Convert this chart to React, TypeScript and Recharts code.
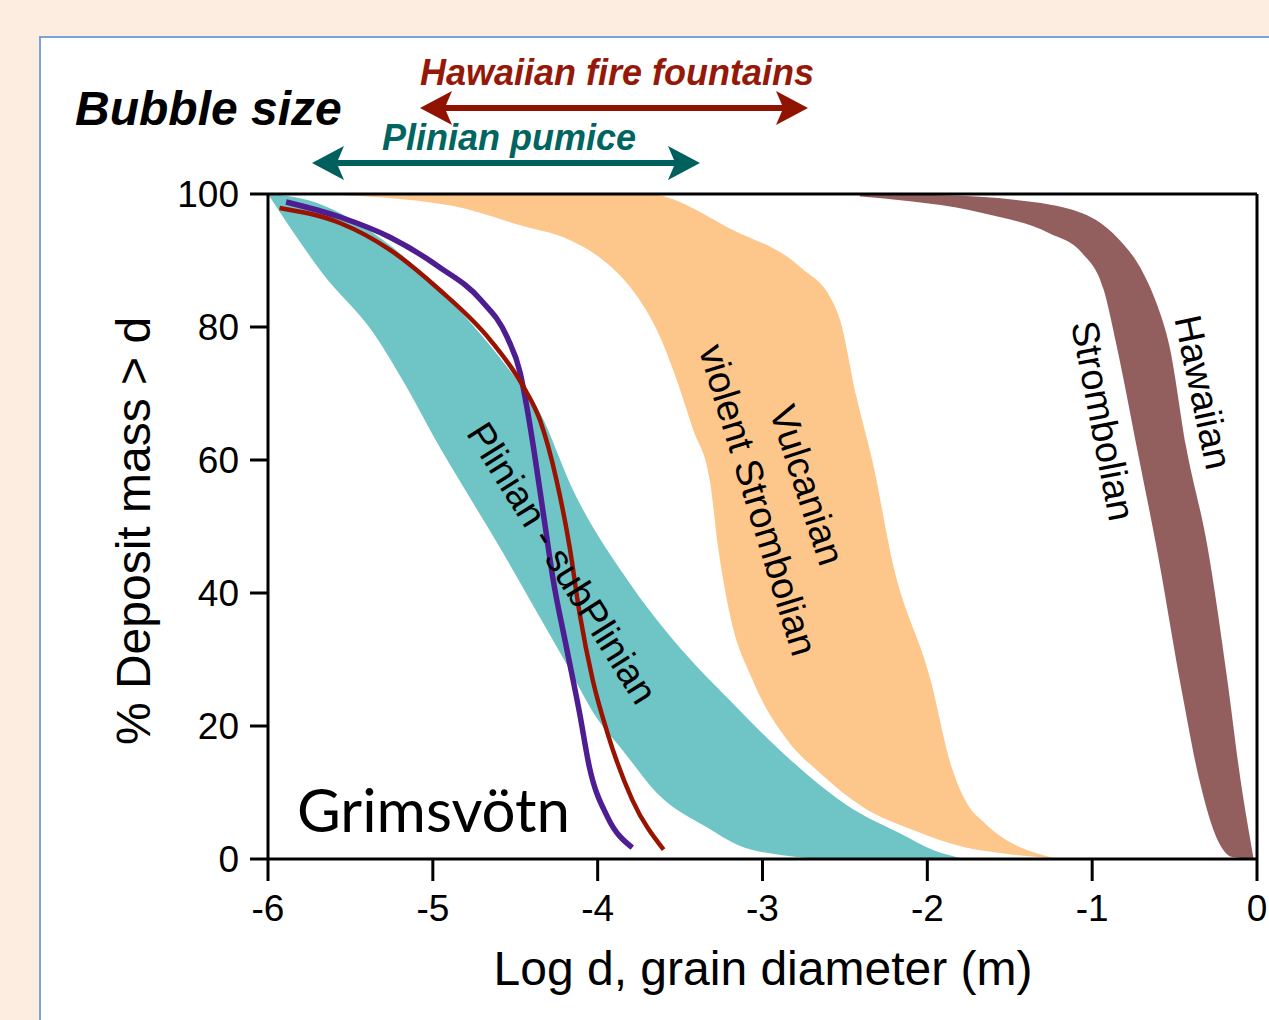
import React from 'react';
import { ComposedChart, Area, Line, XAxis, YAxis, ReferenceLine, ReferenceDot } from 'recharts';

// axis ticks
const xTicks = [-6, -5, -4, -3, -2, -1, 0];
const yTicks = [0, 20, 40, 60, 80, 100];

// band outlines (x = log d, y = % deposit mass > d)
const hawaiianRight = [
  { x: -2.41, y: 100 }, { x: -1.9, y: 99.8 }, { x: -1.46, y: 99.1 }, { x: -1.06, y: 97.1 },
  { x: -0.85, y: 93.5 }, { x: -0.69, y: 88.1 }, { x: -0.61, y: 83.6 }, { x: -0.53, y: 77.0 },
  { x: -0.43, y: 62.0 }, { x: -0.3, y: 46.9 }, { x: -0.18, y: 26.9 }, { x: -0.1, y: 11.9 },
  { x: -0.02, y: 0 },
];
const hawaiianLeft = [
  { x: -2.6, y: 100 }, { x: -2.35, y: 99.5 }, { x: -1.66, y: 97.1 }, { x: -1.26, y: 94.1 },
  { x: -1.06, y: 91.1 }, { x: -0.93, y: 85.6 }, { x: -0.85, y: 77.0 }, { x: -0.73, y: 62.0 },
  { x: -0.61, y: 46.9 }, { x: -0.45, y: 24.4 }, { x: -0.35, y: 11.9 }, { x: -0.24, y: 2.9 },
  { x: -0.15, y: 0.3 }, { x: -0.02, y: 0 },
];
const vulcanianRight = [
  { x: -5.62, y: 100 }, { x: -3.7, y: 100 }, { x: -3.18, y: 94.6 }, { x: -2.77, y: 89.0 },
  { x: -2.57, y: 83.6 }, { x: -2.53, y: 81.1 }, { x: -2.43, y: 69.5 }, { x: -2.33, y: 59.5 },
  { x: -2.21, y: 44.5 }, { x: -1.98, y: 26.9 }, { x: -1.86, y: 14.4 }, { x: -1.76, y: 8.4 },
  { x: -1.66, y: 5.6 }, { x: -1.21, y: 0 },
];
const vulcanianLeft = [
  { x: -5.7, y: 100 }, { x: -4.9, y: 98.3 }, { x: -4.47, y: 95.3 }, { x: -4.17, y: 93.1 },
  { x: -3.99, y: 90.5 }, { x: -3.79, y: 85.6 }, { x: -3.64, y: 79.5 }, { x: -3.52, y: 72.0 },
  { x: -3.42, y: 64.5 }, { x: -3.32, y: 57.0 }, { x: -3.27, y: 47.0 }, { x: -3.2, y: 37.0 },
  { x: -3.06, y: 26.9 }, { x: -2.85, y: 17.9 }, { x: -2.65, y: 12.9 }, { x: -2.39, y: 7.8 },
  { x: -2.09, y: 4.4 }, { x: -1.78, y: 1.8 }, { x: -1.56, y: 0.9 }, { x: -1.21, y: 0 },
];
const plinianRight = [
  { x: -6, y: 100 }, { x: -5.76, y: 99.1 }, { x: -5.36, y: 94.1 }, { x: -4.96, y: 85.6 },
  { x: -4.55, y: 74.0 }, { x: -4.35, y: 67.1 }, { x: -4.15, y: 55.5 }, { x: -3.82, y: 42.0 },
  { x: -3.54, y: 32.9 }, { x: -3.2, y: 23.9 }, { x: -2.83, y: 14.9 }, { x: -2.47, y: 7.8 },
  { x: -2.17, y: 3.9 }, { x: -1.97, y: 1.4 }, { x: -1.77, y: 0 },
];
const plinianLeft = [
  { x: -6, y: 100 }, { x: -5.67, y: 88.1 }, { x: -5.36, y: 79.1 }, { x: -5.16, y: 71.0 },
  { x: -4.96, y: 62.0 }, { x: -4.84, y: 57.0 }, { x: -4.55, y: 45.0 }, { x: -4.41, y: 38.9 },
  { x: -4.2, y: 29.8 }, { x: -4.0, y: 21.0 }, { x: -3.85, y: 16.4 }, { x: -3.64, y: 9.9 },
  { x: -3.34, y: 4.8 }, { x: -3.14, y: 2.0 }, { x: -2.89, y: 0.6 }, { x: -2.6, y: 0 },
];

// Grimsvötn curves
const grimsvotnPurple = [
  { x: -5.89, y: 98.8 }, { x: -5.56, y: 96.5 }, { x: -5.26, y: 93.5 }, { x: -4.96, y: 89.0 },
  { x: -4.71, y: 84.1 }, { x: -4.55, y: 78.5 }, { x: -4.47, y: 73.1 }, { x: -4.43, y: 68.0 },
  { x: -4.39, y: 62.0 }, { x: -4.33, y: 52.0 }, { x: -4.27, y: 42.0 }, { x: -4.19, y: 31.9 },
  { x: -4.11, y: 22.0 }, { x: -4.05, y: 13.8 }, { x: -3.94, y: 6.3 }, { x: -3.79, y: 1.7 },
];
const grimsvotnRed = [
  { x: -5.93, y: 97.9 }, { x: -5.56, y: 95.6 }, { x: -5.26, y: 91.6 }, { x: -4.96, y: 85.6 },
  { x: -4.65, y: 78.0 }, { x: -4.45, y: 71.0 }, { x: -4.35, y: 66.0 }, { x: -4.25, y: 57.0 },
  { x: -4.17, y: 46.9 }, { x: -4.11, y: 37.0 }, { x: -4.03, y: 26.9 }, { x: -3.94, y: 18.9 },
  { x: -3.79, y: 8.9 }, { x: -3.6, y: 1.4 },
];

// in-plot labels: text, position (data units), rotation
const bandLabels = [
  { text: 'Plinian - subPlinian', x: -4.216, y: 44.5, angle: 58 },
  { text: 'Vulcanian', x: -2.73, y: 56.2, angle: 72 },
  { text: 'violent Strombolian', x: -3.027, y: 54.0, angle: 73 },
  { text: 'Strombolian', x: -0.934, y: 65.9, angle: 79 },
  { text: 'Hawaiian', x: -0.327, y: 70.2, angle: 78 },
];

const FONT = '"Liberation Sans", Arial, Helvetica, sans-serif';
const axisStyle = { stroke: '#000', strokeWidth: 3 };
const tickStyle = { fill: '#000', fontSize: 37, fontFamily: FONT };

const RotatedText = (props: any) => {
  const { cx, cy, text, angle } = props;
  return (
    <text
      x={cx}
      y={cy}
      transform={`rotate(${angle}, ${cx}, ${cy})`}
      textAnchor="middle"
      dominantBaseline="central"
      fontSize={38}
      fontFamily={FONT}
      fill="#000"
    >
      {text}
    </text>
  );
};

const GrimsLabel = (props: any) => {
  const { cx, cy } = props;
  return (
    <text x={cx} y={cy} fontSize={60} fontFamily="Lato, 'Open Sans', sans-serif" fill="#000">
      Grimsvötn
    </text>
  );
};

const arrowPath = (x1: number, x2: number, y: number) =>
  `M${x1},${y} L${x1 + 32},${y - 17} L${x1 + 26},${y - 3} L${x2 - 26},${y - 3} L${x2 - 32},${y - 17} ` +
  `L${x2},${y} L${x2 - 32},${y + 17} L${x2 - 26},${y + 3} L${x1 + 26},${y + 3} L${x1 + 32},${y + 17} Z`;

const App: React.FC = () => {
  return (
    <div
      style={{
        position: 'absolute', left: 0, top: 0, width: 1269, height: 1020,
        background: '#fdede0', overflow: 'hidden', fontFamily: FONT,
      }}
    >
      <div
        style={{
          position: 'absolute', left: 39, top: 36, width: 1260, height: 1020,
          background: '#fff', border: '2px solid #7ba2d6',
        }}
      />
      <div style={{ position: 'absolute', left: 0, top: 0 }}>
        <ComposedChart width={1269} height={1020} margin={{ top: 194, right: 12, bottom: 101, left: 208 }}>
          <XAxis
            type="number" dataKey="x" domain={[-6, 0]} ticks={xTicks} allowDataOverflow
            height={60} tickSize={22} tickMargin={14}
            axisLine={axisStyle} tickLine={axisStyle} tick={tickStyle}
          />
          <YAxis
            type="number" dataKey="y" domain={[0, 100]} ticks={yTicks} allowDataOverflow
            width={60} tickSize={18} tickMargin={11}
            axisLine={axisStyle} tickLine={axisStyle} tick={tickStyle}
          />

          {/* each band = fill under right edge, then white over left edge */}
          <Area data={hawaiianRight} dataKey="y" type="monotone" fill="#935f5e" fillOpacity={1} stroke="none" isAnimationActive={false} />
          <Area data={hawaiianLeft} dataKey="y" type="monotone" fill="#fff" fillOpacity={1} stroke="none" isAnimationActive={false} />
          <Area data={vulcanianRight} dataKey="y" type="monotone" fill="#fdc78c" fillOpacity={1} stroke="none" isAnimationActive={false} />
          <Area data={vulcanianLeft} dataKey="y" type="monotone" fill="#fff" fillOpacity={1} stroke="none" isAnimationActive={false} />
          <Area data={plinianRight} dataKey="y" type="monotone" fill="#6fc4c6" fillOpacity={1} stroke="none" isAnimationActive={false} />
          <Area data={plinianLeft} dataKey="y" type="monotone" fill="#fff" fillOpacity={1} stroke="none" isAnimationActive={false} />

          {bandLabels.map((l) => (
            <ReferenceDot
              key={l.text} x={l.x} y={l.y} r={1} ifOverflow="visible"
              shape={(p: any) => <RotatedText {...p} text={l.text} angle={l.angle} />}
            />
          ))}
          <ReferenceDot x={-5.824} y={4.06} r={1} ifOverflow="visible" shape={(p: any) => <GrimsLabel {...p} />} />

          <Line data={grimsvotnPurple} dataKey="y" type="monotone" stroke="#4d1d91" strokeWidth={5.5} dot={false} isAnimationActive={false} />
          <Line data={grimsvotnRed} dataKey="y" type="monotone" stroke="#9a1200" strokeWidth={4.5} dot={false} isAnimationActive={false} />

          {/* box frame */}
          <ReferenceLine y={100} stroke="#000" strokeWidth={3} />
          <ReferenceLine x={0} stroke="#000" strokeWidth={3} />
        </ComposedChart>
      </div>

      <svg width={1269} height={1020} style={{ position: 'absolute', left: 0, top: 0, pointerEvents: 'none' }}>
        <text x={75} y={125} fontSize={48} fontWeight="bold" fontStyle="italic" fontFamily={FONT} fill="#000">
          Bubble size
        </text>
        <text x={420} y={85} fontSize={36} fontWeight="bold" fontStyle="italic" fontFamily={FONT} fill="#951908">
          Hawaiian fire fountains
        </text>
        <path d={arrowPath(420, 808, 108)} fill="#8f1300" />
        <text x={382} y={150} fontSize={36} fontWeight="bold" fontStyle="italic" fontFamily={FONT} fill="#006461">
          Plinian pumice
        </text>
        <path d={arrowPath(312, 700, 163)} fill="#00605e" />

        <text x={763} y={985} textAnchor="middle" fontSize={48} fontFamily={FONT} fill="#000">
          Log d, grain diameter (m)
        </text>
        <text x={150} y={531} textAnchor="middle" fontSize={48} fontFamily={FONT} fill="#000"
          transform="rotate(-90, 150, 531)">
          % Deposit mass &gt; d
        </text>
      </svg>
    </div>
  );
};

export default App;
